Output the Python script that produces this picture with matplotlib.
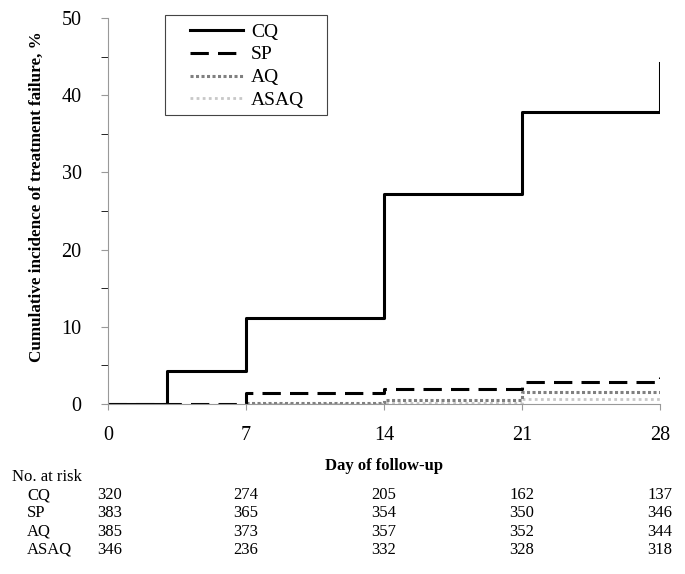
import matplotlib
matplotlib.use("Agg")
import matplotlib.pyplot as plt
from matplotlib.patches import Rectangle
from matplotlib.transforms import blended_transform_factory

plt.rcParams['font.family'] = ['Liberation Serif', 'DejaVu Serif']

cq_days = [0, 3, 7, 14, 21, 28, 28]
cq_vals = [0, 4.3, 11.1, 27.2, 37.8, 37.8, 44.2]
sp_days = [0, 7, 14, 21, 28, 28]
sp_vals = [0, 1.4, 2.0, 2.9, 2.9, 3.5]
aq_days = [7, 14, 21, 28, 28]
aq_vals = [0.1, 0.55, 1.6, 1.6, 1.7]
asaq_days = [7, 14, 21, 28]
asaq_vals = [0, 0.1, 0.6, 0.6]

risk_days = [0, 7, 14, 21, 28]
risk_groups = ["CQ", "SP", "AQ", "ASAQ"]
risk_counts = [
    [320, 274, 205, 162, 137],
    [383, 365, 354, 350, 346],
    [385, 373, 357, 352, 344],
    [346, 236, 332, 328, 318],
]

W, H = 685, 574
fig = plt.figure(figsize=(W / 100, H / 100), dpi=100)
ax_l, ax_r, ax_t, ax_b = 108, 660, 18, 404
ax = fig.add_axes([ax_l / W, 1 - ax_b / H, (ax_r - ax_l) / W, (ax_b - ax_t) / H])

ax.plot(asaq_days, asaq_vals, drawstyle='steps-post', color='#c8c8c8', lw=2.0,
        linestyle=(0, (1, 1.2)), label='ASAQ')
ax.plot(aq_days, aq_vals, drawstyle='steps-post', color='#808080', lw=2.2,
        linestyle=(0, (1, 0.8)), label='AQ')
ax.plot(sp_days, sp_vals, drawstyle='steps-post', color='black', lw=2.2,
        linestyle=(0, (6, 3)), label='SP')
ax.plot(cq_days, cq_vals, drawstyle='steps-post', color='black', lw=2.2,
        linestyle='-', label='CQ')

ax.set_xlim(0, 28)
ax.set_ylim(0, 50)
ax.set_xticks(risk_days)
ax.set_yticks([0, 10, 20, 30, 40, 50])
ax.set_yticks([5, 15, 25, 35, 45], minor=True)
ax.tick_params(labelsize=14.5, color='#999999', length=4, width=0.8)
ax.tick_params(axis='y', which='both', length=5, pad=14)
ax.tick_params(axis='x', pad=12)
for s in ['top', 'right']:
    ax.spines[s].set_visible(False)
for s in ['left', 'bottom']:
    ax.spines[s].set_color('#999999')
    ax.spines[s].set_linewidth(0.8)

fig.text(37 / W, 1 - 197 / H, 'Cumulative incidence of treatment failure, %',
         fontsize=12.3, fontweight='bold', rotation=90, ha='center', va='center')
fig.text(384 / W, 1 - 466 / H, 'Day of follow-up', fontsize=12,
         fontweight='bold', ha='center', va='center')

handles, labels = ax.get_legend_handles_labels()
order = [3, 2, 1, 0]
leg = ax.legend([handles[i] for i in order], [labels[i] for i in order],
                loc='upper left',
                bbox_to_anchor=((190 - ax_l) / (ax_r - ax_l), (ax_b - 23) / (ax_b - ax_t)),
                fontsize=14, frameon=False, handlelength=2.75, borderpad=0,
                labelspacing=0.27, borderaxespad=0, handletextpad=0.4)
fig.patches.append(Rectangle((165 / W, 1 - 115 / H), (327 - 165) / W, 100 / H,
                             transform=fig.transFigure, fill=False,
                             edgecolor='#444444', lw=0.8))

trans = blended_transform_factory(ax.transData, fig.transFigure)
fig.text(12 / W, 1 - 477 / H, 'No. at risk', fontsize=12, va='center', ha='left')
row_y = [495, 513, 532, 550]
for g, counts, yy in zip(risk_groups, risk_counts, row_y):
    fig.text(27 / W, 1 - yy / H, g, fontsize=12, va='center', ha='left')
    for d, c in zip(risk_days, counts):
        ax.text(d + (0.1 if d == 0 else 0), 1 - yy / H, str(c), transform=trans,
                fontsize=12, va='center', ha='center', clip_on=False)

fig.savefig('out.png', dpi=100)
